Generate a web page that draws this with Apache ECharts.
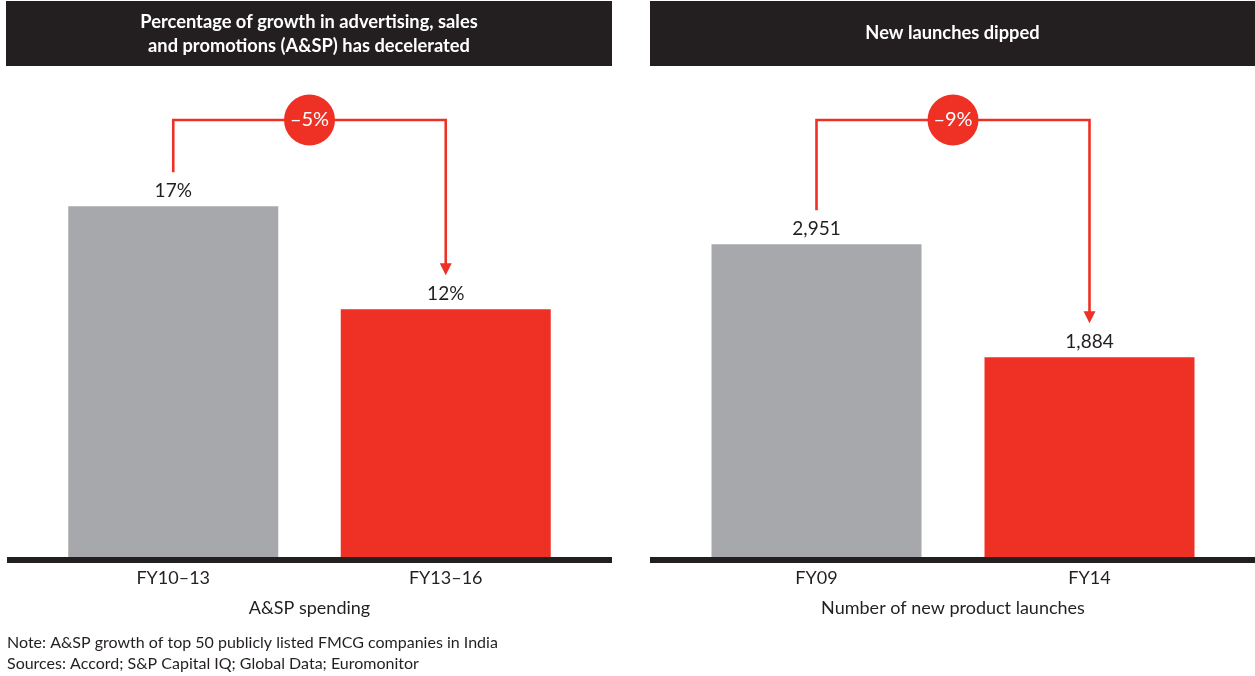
<!DOCTYPE html>
<html>
<head>
<meta charset="utf-8">
<script src="https://cdn.jsdelivr.net/npm/echarts@6/dist/echarts.min.js"></script>
<style>
  html, body { margin: 0; padding: 0; background: #ffffff; }
  #chart { width: 1255px; height: 676px; }
</style>
</head>
<body>
<div id="chart"></div>
<script>
// A&SP growth (left panel)
const spendCategories = ['FY10–13', 'FY13–16'];
const spendValues = [17, 12];
const spendChange = '–5%';

// New product launches (right panel)
const launchCategories = ['FY09', 'FY14'];
const launchValues = [2951, 1884];
const launchChange = '–9%';

const headerLeft = 'Percentage of growth in advertising, sales\nand promotions (A&SP) has decelerated';
const headerRight = 'New launches dipped';
const axisNameLeft = 'A&SP spending';
const axisNameRight = 'Number of new product launches';
const notes = [
  'Note: A&SP growth of top 50 publicly listed FMCG companies in India',
  'Sources: Accord; S&P Capital IQ; Global Data; Euromonitor'
];

const INK = '#231f20';
const GREY = '#a7a8ab';
const RED = '#ee3124';
const BODY_FONT = 'Lato, "Noto Sans", sans-serif';
const HEAD_FONT = 'Lato, "Noto Sans", sans-serif';

const chart = echarts.init(document.getElementById('chart'), null, { renderer: 'canvas' });

function xAxisFor(gridIndex, cats, name) {
  return {
    type: 'category', gridIndex: gridIndex, data: cats,
    axisLine: { show: false }, axisTick: { show: false },
    axisLabel: { margin: 12, fontSize: 18, color: INK, fontFamily: BODY_FONT },
    name: name, nameLocation: 'middle', nameGap: 42,
    nameTextStyle: { fontSize: 18, color: INK, fontFamily: BODY_FONT }
  };
}
function yAxisFor(gridIndex, max) {
  return {
    type: 'value', gridIndex: gridIndex, min: 0, max: max,
    show: false, splitLine: { show: false }
  };
}
function barSeries(idx, values, fmt) {
  return {
    type: 'bar', xAxisIndex: idx, yAxisIndex: idx, barWidth: 210,
    data: values.map((v, i) => ({
      value: v,
      itemStyle: { color: i === 0 ? GREY : RED }
    })),
    label: {
      show: true, position: 'top', distance: 6,
      fontSize: 19, color: INK, fontFamily: BODY_FONT,
      formatter: p => fmt(p.value)
    },
    silent: true, animation: false
  };
}

chart.setOption({
  animation: false,
  grid: [
    { left: 37, width: 545, top: 103, height: 454 },
    { left: 680, width: 546, top: 133, height: 424 }
  ],
  xAxis: [
    xAxisFor(0, spendCategories, axisNameLeft),
    xAxisFor(1, launchCategories, axisNameRight)
  ],
  yAxis: [yAxisFor(0, 22), yAxisFor(1, 4000)],
  series: [
    barSeries(0, spendValues, v => v + '%'),
    barSeries(1, launchValues, v => v.toLocaleString('en-US'))
  ]
});

// Bracket arrow from the first bar to the second with a badge showing the change
function bracket(seriesIndex, values, changeText) {
  const a = chart.convertToPixel({ seriesIndex: seriesIndex }, [0, values[0]]);
  const b = chart.convertToPixel({ seriesIndex: seriesIndex }, [1, values[1]]);
  const topY = 120;
  const gap = 34;
  const tipY = b[1] - gap;
  const midX = (a[0] + b[0]) / 2;
  return [
    {
      type: 'polyline', silent: true,
      shape: { points: [[a[0], a[1] - gap], [a[0], topY], [b[0], topY], [b[0], tipY - 10]] },
      style: { stroke: RED, lineWidth: 2.6, fill: null }
    },
    {
      type: 'polygon', silent: true,
      shape: { points: [[b[0] - 6, tipY - 12], [b[0] + 6, tipY - 12], [b[0], tipY]] },
      style: { fill: RED }
    },
    {
      type: 'circle', silent: true,
      shape: { cx: midX, cy: topY, r: 25.5 },
      style: { fill: RED }
    },
    {
      type: 'text', silent: true, x: midX, y: topY,
      style: {
        text: changeText, fill: '#ffffff', fontSize: 20, fontFamily: BODY_FONT,
        align: 'center', verticalAlign: 'middle'
      }
    }
  ];
}

const graphics = [
  // header bars
  { type: 'rect', silent: true, shape: { x: 6, y: 1, width: 606, height: 65 }, style: { fill: INK } },
  { type: 'rect', silent: true, shape: { x: 650, y: 1, width: 605, height: 65 }, style: { fill: INK } },
  {
    type: 'text', silent: true, x: 309, y: 34,
    style: {
      text: headerLeft, fill: '#ffffff', fontSize: 18.3, fontWeight: 'bold', fontFamily: HEAD_FONT,
      lineHeight: 24, align: 'center', verticalAlign: 'middle'
    }
  },
  {
    type: 'text', silent: true, x: 952.5, y: 33,
    style: {
      text: headerRight, fill: '#ffffff', fontSize: 18.3, fontWeight: 'bold', fontFamily: HEAD_FONT,
      align: 'center', verticalAlign: 'middle'
    }
  },
  // baselines
  { type: 'rect', silent: true, shape: { x: 7, y: 557, width: 605, height: 6 }, style: { fill: INK } },
  { type: 'rect', silent: true, shape: { x: 650, y: 557, width: 605, height: 6 }, style: { fill: INK } },
  // notes
  {
    type: 'text', silent: true, x: 7, y: 643,
    style: { text: notes[0], fill: INK, fontSize: 16, fontFamily: BODY_FONT, verticalAlign: 'middle' }
  },
  {
    type: 'text', silent: true, x: 7, y: 664,
    style: { text: notes[1], fill: INK, fontSize: 16, fontFamily: BODY_FONT, verticalAlign: 'middle' }
  }
].concat(bracket(0, spendValues, spendChange), bracket(1, launchValues, launchChange));

chart.setOption({ graphic: graphics });
</script>
</body>
</html>
